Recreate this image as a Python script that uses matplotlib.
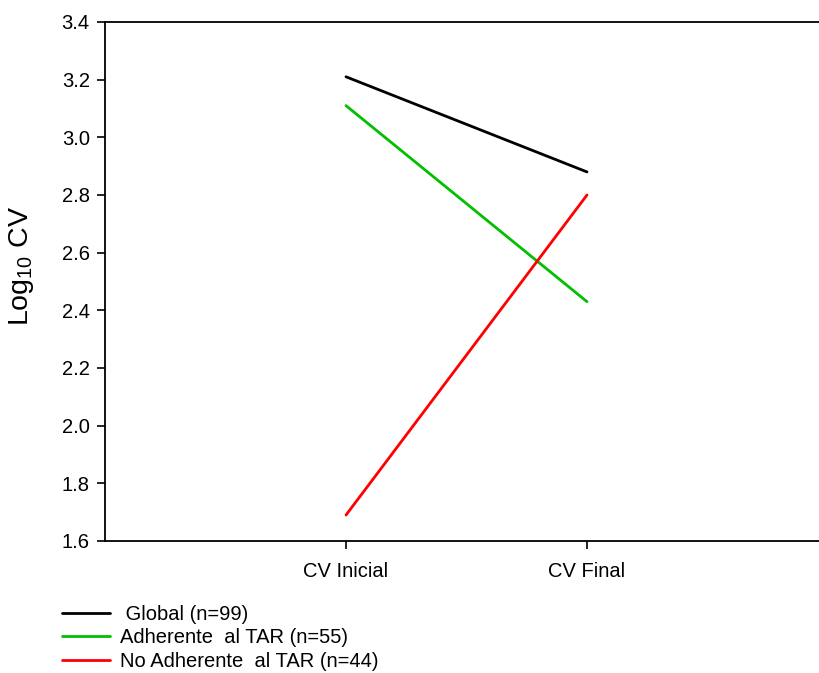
import matplotlib
matplotlib.use("Agg")
import matplotlib.pyplot as plt

plt.rcParams['font.family'] = ['Liberation Sans', 'DejaVu Sans']
plt.rcParams['mathtext.fontset'] = 'custom'
plt.rcParams['mathtext.rm'] = 'Liberation Sans'

categories = ["CV Inicial", "CV Final"]
global_vals = [3.21, 2.88]
adherente_vals = [3.11, 2.43]
no_adherente_vals = [1.69, 2.80]
labels = [" Global (n=99)", "Adherente  al TAR (n=55)", "No Adherente  al TAR (n=44)"]
colors = ["#000000", "#00C000", "#FF0000"]
yticks = [1.6, 1.8, 2.0, 2.2, 2.4, 2.6, 2.8, 3.0, 3.2, 3.4]

fig = plt.figure(figsize=(8.19, 6.73), dpi=100)
ax = fig.add_axes([105/819, 132/673, 723/819, 519/673])

x = [1, 2]
handles = []
for vals, lab, col in zip([global_vals, adherente_vals, no_adherente_vals], labels, colors):
    h, = ax.plot(x, vals, color=col, lw=2.0, label=lab, solid_capstyle='round')
    handles.append(h)

ax.set_xlim(0, 3)
ax.set_ylim(1.6, 3.4)
ax.set_xticks(x)
ax.set_xticklabels(categories)
ax.set_yticks(yticks)
ax.set_yticklabels([f"{t:.1f}" for t in yticks])
ax.tick_params(axis='both', direction='out', length=6, width=1.2, labelsize=14.5, pad=5)
ax.tick_params(axis='x', pad=9)
for s in ['left', 'bottom', 'top']:
    ax.spines[s].set_linewidth(1.3)
ax.spines['right'].set_visible(False)

ax.set_ylabel(r"Log$_{\mathrm{10}}$ CV", fontsize=20.5)
ax.yaxis.set_label_coords(-69/723, 0.53)

fig.legend(handles=handles, labels=labels, loc='upper left',
           bbox_to_anchor=(54/819, 1 - 597/673), frameon=False, fontsize=14.5,
           handlelength=2.4, handletextpad=0.5, labelspacing=0.22, borderaxespad=0)

fig.savefig("out.png", dpi=100)
